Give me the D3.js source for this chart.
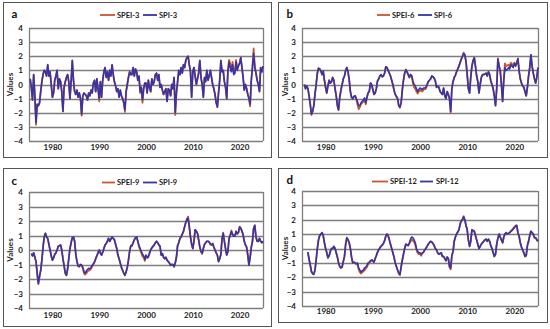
<!DOCTYPE html>
<html><head><meta charset="utf-8">
<script src="https://cdn.jsdelivr.net/npm/d3@7"></script>
<style>html,body{margin:0;padding:0;background:#fff;} svg{display:block;font-family:Lato,"Open Sans",sans-serif;}</style>
</head><body><svg id="chart" width="550" height="329"></svg>
<script>
// quarterly values, one row per year (Jan, Apr, Jul, Oct), starting 1975; last row = Jan 2025
const START_YEAR = 1975, STEP = 0.25;
const yTicks = [-4, -3, -2, -1, 0, 1, 2, 3, 4];
const xTicks = [1980, 1990, 2000, 2010, 2020];

const spi3 = [
 null,0.4,-0.2,-1.1, 0.7,-0.8,-2.7,-1.4, -1.5,-1.3,-0.5,0.2, 0.7,1.0,0.9,0.6, 1.4,0.6,0.9,0.0,
 -0.9,-0.6,0.3,0.6, 1.0,-0.3,0.4,0.2, -0.5,-1.9,-0.2,0.2, 0.5,0.7,0.2,-1.0, 0.2,1.7,0.3,-0.5,
 -0.7,-0.4,-0.9,-0.6, -1.0,-2.1,-0.8,-0.6, -0.7,-0.8,-1.1,-0.6, -0.8,-0.4,-0.6,0.1, 0.3,-0.5,0.4,-0.3,
 -1.0,0.2,-0.9,0.3, 0.9,1.2,0.5,0.9, 0.3,1.0,0.6,1.4, 0.7,0.2,-0.1,-0.5, -0.3,-0.9,-0.4,-0.8,
 -1.0,-1.3,-1.8,-0.5, 0.0,0.5,0.9,0.7, 0.7,1.2,0.6,1.1, 0.9,0.3,0.6,-0.5, -0.2,-1.1,-0.3,0.1,
 0.1,-0.6,0.3,-0.2, -0.5,0.4,0.0,0.2, 0.7,0.8,0.3,0.7, -0.2,0.0,-0.4,-0.7, -0.5,-0.3,-1.2,-0.3,
 -0.4,-0.8,0.0,-0.3, 0.5,-2.0,-0.6,0.2, 1.0,0.7,1.2,0.8, 1.4,1.2,1.7,1.9, 2.0,1.4,0.9,-0.9,
 0.9,1.2,0.6,0.0, 0.4,0.8,1.7,0.5, 0.0,-0.9,0.5,0.2, 1.0,0.3,0.6,1.0, 0.5,0.0,-0.3,-0.7,
 -1.3,-1.6,-0.6,0.3, 1.7,0.9,1.0,0.2, -0.2,-1.0,0.9,1.6, 1.2,0.9,1.4,0.7, 0.8,1.6,1.0,1.3,
 1.5,1.9,1.2,0.5, -0.4,0.0,-0.3,-0.7, -1.0,-1.4,0.3,1.2, 2.2,1.2,0.8,0.3, 0.0,-0.5,1.2,0.9,
 1.3
];
const spei3 = [
 null,0.4,-0.2,-1.1, 0.7,-0.8,-2.85,-1.4, -1.5,-1.3,-0.5,0.2, 0.7,1.0,0.9,0.6, 1.4,0.6,0.9,0.0,
 -0.9,-0.6,0.3,0.6, 1.0,-0.3,0.4,0.2, -0.5,-1.9,-0.2,0.2, 0.5,0.7,0.2,-1.0, 0.2,1.7,0.3,-0.5,
 -0.7,-0.4,-0.9,-0.6, -1.0,-2.2,-0.8,-0.6, -0.7,-0.8,-1.1,-0.6, -0.8,-0.4,-0.6,0.1, 0.3,-0.5,0.4,-0.3,
 -1.2,0.2,-0.9,0.3, 0.9,1.2,0.5,0.9, 0.3,1.0,0.6,1.4, 0.7,0.2,-0.1,-0.5, -0.3,-0.9,-0.4,-0.8,
 -1.0,-1.3,-1.95,-0.5, 0.0,0.5,0.9,0.7, 0.7,1.2,0.6,1.1, 0.9,0.3,0.6,-0.6, -0.2,-1.3,-0.3,0.1,
 0.1,-0.6,0.3,-0.2, -0.5,0.4,0.0,0.2, 0.7,0.8,0.3,0.7, -0.2,0.0,-0.4,-0.7, -0.5,-0.3,-1.2,-0.3,
 -0.4,-0.8,0.0,-0.3, 0.5,-2.15,-0.6,0.2, 1.0,0.7,1.2,0.8, 1.4,1.2,1.7,1.9, 2.0,1.4,0.9,-0.9,
 0.9,1.2,0.6,0.0, 0.4,0.8,1.7,0.5, 0.0,-0.9,0.5,0.2, 1.0,0.3,0.6,1.0, 0.5,0.0,-0.3,-0.7,
 -1.3,-1.6,-0.6,0.3, 1.7,0.9,1.0,0.2, -0.2,-1.0,1.0,1.75, 1.45,1.0,1.6,0.8, 0.9,1.75,1.1,1.35,
 1.5,1.9,1.2,0.5, -0.4,0.0,-0.3,-0.7, -1.0,-1.55,0.3,1.3, 2.55,1.3,0.8,0.3, 0.0,-0.5,1.2,0.9,
 1.3
];
const spi6 = [
 null,null,0.0,-0.3, -0.1,-0.3,-0.8,-1.4, -2.1,-1.9,-1.5,-0.7, 0.0,0.8,1.15,1.1, 0.95,0.7,0.95,0.3,
 -0.2,-0.6,-0.1,0.3, 0.1,0.2,0.5,0.3, -0.3,-0.8,-1.5,-1.8, -0.9,-0.4,0.0,0.4, 0.6,1.0,1.2,0.9,
 0.35,-0.5,-0.9,-1.0, -0.85,-0.8,-1.0,-1.2, -1.5,-1.5,-1.3,-1.2, -1.1,-0.95,-1.3,-0.9, -0.6,-0.5,0.1,0.0,
 -0.35,-0.7,-0.6,-0.3, 0.25,0.4,0.6,0.7, 0.55,0.6,0.8,1.25, 1.2,1.0,0.8,0.6, 0.3,0.0,-0.4,-0.7,
 -0.85,-1.0,-1.5,-1.6, -1.3,-0.4,0.3,0.8, 1.05,0.9,0.7,0.5, 0.7,0.6,0.25,0.0, -0.1,-0.3,-0.5,-0.35,
 -0.25,-0.3,-0.35,-0.25, -0.25,-0.2,0.0,0.2, 0.3,0.4,0.6,0.55, 0.45,0.25,-0.2,-0.1, -0.2,-0.5,-0.6,-0.7,
 -0.25,-0.8,-1.0,-0.5, -0.7,-1.0,-1.9,-0.3, 0.2,0.5,0.65,0.9, 1.1,1.3,1.55,1.8, 2.0,2.2,2.1,1.6,
 0.7,-0.3,-0.6,0.5, 1.3,1.7,1.9,1.3, 0.6,0.2,-0.6,0.0, 0.5,0.7,0.7,0.75, 0.8,0.6,0.9,0.7,
 0.25,0.0,-0.3,-0.8, -1.5,-0.3,1.8,1.3, 0.95,0.0,-1.2,0.3, 1.2,1.0,1.05,1.2, 1.1,1.4,1.3,1.2,
 1.5,1.3,1.5,1.8, 0.95,0.4,0.1,-0.1, -0.2,-0.5,-0.8,-0.2, 0.6,1.2,2.1,1.3, 0.8,0.4,0.1,0.5,
 1.2
];
const spei6 = [
 null,null,0.0,-0.3, -0.1,-0.3,-0.8,-1.4, -2.15,-1.9,-1.5,-0.7, 0.0,0.8,1.15,1.1, 0.95,0.7,0.95,0.3,
 -0.2,-0.6,-0.1,0.3, 0.1,0.2,0.5,0.3, -0.3,-0.8,-1.5,-1.8, -0.9,-0.4,0.0,0.4, 0.6,1.0,1.2,0.9,
 0.35,-0.5,-0.9,-1.0, -0.85,-0.8,-1.05,-1.4, -1.75,-1.6,-1.4,-1.3, -1.2,-1.05,-1.4,-0.95, -0.6,-0.5,0.1,0.0,
 -0.35,-0.7,-0.6,-0.3, 0.25,0.4,0.6,0.7, 0.55,0.6,0.8,1.25, 1.2,1.0,0.8,0.6, 0.3,0.0,-0.4,-0.7,
 -0.85,-1.0,-1.5,-1.65, -1.3,-0.4,0.3,0.8, 1.05,0.9,0.7,0.5, 0.7,0.6,0.1,-0.2, -0.3,-0.5,-0.65,-0.5,
 -0.4,-0.45,-0.5,-0.35, -0.35,-0.3,-0.05,0.2, 0.3,0.4,0.6,0.55, 0.45,0.25,-0.2,-0.1, -0.2,-0.5,-0.6,-0.7,
 -0.25,-0.8,-1.0,-0.5, -0.7,-1.0,-2.0,-0.3, 0.2,0.5,0.65,0.9, 1.1,1.3,1.55,1.8, 2.0,2.25,2.1,1.6,
 0.7,-0.3,-0.6,0.5, 1.3,1.7,1.9,1.3, 0.6,0.2,-0.6,0.0, 0.5,0.7,0.7,0.75, 0.8,0.6,0.9,0.7,
 0.25,0.0,-0.3,-0.8, -1.5,-0.3,1.85,1.35, 1.0,0.0,-1.2,0.4, 1.5,1.3,1.35,1.4, 1.3,1.55,1.45,1.3,
 1.55,1.35,1.55,1.85, 0.95,0.4,0.1,-0.1, -0.2,-0.5,-0.8,-0.2, 0.6,1.2,2.1,1.3, 0.8,0.4,0.1,0.5,
 1.2
];
const spi9 = [
 null,null,-0.25,-0.4, -0.2,-0.5,-0.8,-1.6, -2.3,-1.8,-1.4,-0.7, 0.2,0.9,1.15,0.9, 0.8,0.4,0.0,-0.4,
 -0.7,-0.55,-0.3,-0.2, 0.0,0.25,0.3,0.35, 0.0,-0.6,-1.1,-1.6, -1.75,-1.3,-0.6,0.1, 0.5,0.85,0.9,0.6,
 -0.3,-0.8,-1.1,-1.15, -1.0,-1.05,-1.2,-1.5, -1.6,-1.45,-1.35,-1.27, -1.3,-1.2,-1.05,-0.95, -0.8,-0.6,-0.4,-0.2,
 0.0,-0.2,-0.35,-0.15, 0.1,0.35,0.45,0.6, 0.8,0.6,0.75,0.9, 0.8,0.7,0.4,0.1, -0.35,-0.6,-0.9,-1.2,
 -1.4,-1.6,-1.75,-1.5, -1.2,-0.7,-0.1,0.3, 0.3,0.5,0.7,0.85, 0.9,0.6,0.3,0.1, -0.1,-0.3,-0.4,-0.65,
 -0.35,-0.5,-0.45,-0.2, 0.0,0.15,0.25,0.35, 0.5,0.6,0.5,0.35, 0.25,-0.35,-0.25,-0.5, -0.6,-0.5,-0.7,-0.8,
 -0.9,-1.05,-1.0,-1.0, -1.15,-0.9,-0.5,0.3, 0.5,0.8,0.9,1.1, 1.27,1.6,1.9,2.1, 2.2,1.6,0.9,0.4,
 0.1,0.6,1.4,1.3, 1.15,0.7,0.2,-0.1, -0.25,0.1,0.4,0.5, 0.6,0.6,0.55,0.4, 0.35,0.45,0.2,0.0,
 -0.2,-0.35,-0.8,-0.6, -0.3,0.8,1.15,0.6, 0.1,-0.35,-0.1,0.8, 1.0,1.27,1.05,0.95, 0.95,1.27,1.1,1.2,
 1.6,1.5,1.3,1.05, 0.6,0.35,0.2,-0.35, -1.05,-0.5,0.2,0.6, 1.5,1.7,0.9,0.6, 0.6,0.8,0.6,0.5,
 0.6
];
const spei9 = [
 null,null,-0.25,-0.4, -0.2,-0.5,-0.8,-1.65, -2.35,-1.85,-1.4,-0.7, 0.2,0.9,1.15,0.9, 0.8,0.4,0.0,-0.4,
 -0.7,-0.55,-0.3,-0.2, 0.0,0.25,0.3,0.35, 0.0,-0.6,-1.1,-1.6, -1.75,-1.3,-0.6,0.1, 0.5,0.85,0.9,0.6,
 -0.3,-0.8,-1.1,-1.15, -1.0,-1.05,-1.25,-1.6, -1.7,-1.6,-1.5,-1.4, -1.4,-1.3,-1.15,-1.0, -0.85,-0.6,-0.4,-0.2,
 0.0,-0.2,-0.35,-0.15, 0.1,0.35,0.45,0.6, 0.8,0.6,0.75,0.9, 0.8,0.7,0.4,0.1, -0.35,-0.6,-0.9,-1.2,
 -1.4,-1.6,-1.75,-1.5, -1.2,-0.7,-0.1,0.3, 0.3,0.5,0.7,0.85, 0.9,0.6,0.25,0.0, -0.2,-0.45,-0.5,-0.75,
 -0.45,-0.55,-0.5,-0.25, 0.0,0.15,0.25,0.35, 0.5,0.6,0.5,0.35, 0.25,-0.35,-0.25,-0.5, -0.6,-0.5,-0.7,-0.8,
 -0.9,-1.05,-1.0,-1.0, -1.15,-0.9,-0.5,0.3, 0.5,0.8,0.9,1.1, 1.27,1.6,1.9,2.15, 2.3,1.6,0.9,0.4,
 0.1,0.6,1.4,1.3, 1.15,0.7,0.2,-0.1, -0.25,0.1,0.4,0.5, 0.6,0.6,0.55,0.4, 0.35,0.45,0.2,0.0,
 -0.2,-0.35,-0.8,-0.6, -0.3,0.8,1.2,0.6, 0.1,-0.35,-0.1,0.8, 1.05,1.35,1.1,1.0, 1.0,1.3,1.15,1.2,
 1.6,1.5,1.3,1.05, 0.6,0.35,0.2,-0.35, -1.05,-0.5,0.2,0.6, 1.5,1.7,0.9,0.6, 0.6,0.8,0.6,0.5,
 0.6
];
const spi12 = [
 null,null,null,null, null,-0.25,-0.75,-1.15, -1.6,-1.75,-1.8,-1.5, -0.8,0.0,0.6,0.9, 1.0,1.1,0.9,0.4,
 0.0,-0.3,-0.65,-0.5, -0.2,0.0,0.0,0.15, 0.0,-0.3,-0.6,-1.0, -1.25,-1.35,-1.3,-0.9, -0.55,0.3,0.75,0.6,
 0.4,0.0,-0.6,-1.0, -0.95,-1.0,-1.05,-1.0, -1.35,-1.5,-1.65,-1.55, -1.5,-1.35,-1.3,-1.2, -1.0,-0.95,-0.85,-0.8,
 -0.85,-0.95,-0.7,-0.5, -0.25,-0.1,0.05,0.15, 0.25,0.35,0.55,0.85, 1.0,0.9,0.6,0.3, 0.0,-0.3,-0.6,-1.0,
 -1.25,-1.5,-1.7,-1.8, -1.3,-0.8,-0.4,0.0, 0.3,0.25,0.2,0.4, 0.65,0.8,0.75,0.6, 0.4,0.0,-0.2,-0.3,
 -0.3,-0.4,-0.3,-0.25, -0.1,0.0,0.15,0.3, 0.4,0.5,0.45,0.35, 0.2,0.0,-0.1,-0.3, -0.4,-0.35,-0.3,-0.55,
 -0.55,-0.7,-0.85,-0.6, -0.7,-1.25,-1.35,-0.5, -0.2,0.5,0.8,1.0, 1.15,1.3,1.7,1.9, 2.0,2.2,2.0,1.6,
 1.3,0.6,0.15,0.5, 1.3,1.25,1.2,0.9, 0.6,0.3,0.0,0.15, 0.3,0.4,0.5,0.6, 0.65,0.5,0.65,0.5,
 0.2,0.0,-0.3,-0.55, -0.4,0.3,0.7,1.0, 0.8,0.6,0.4,0.8, 1.0,1.1,1.0,1.05, 1.1,1.2,1.25,1.35,
 1.45,1.55,1.6,1.1, 0.85,0.4,0.1,-0.1, -0.3,-0.55,-0.5,0.2, 0.5,0.9,1.2,1.1, 1.0,0.75,0.75,0.6,
 0.5
];
const spei12 = [
 null,null,null,null, null,-0.25,-0.75,-1.15, -1.6,-1.75,-1.8,-1.5, -0.8,0.0,0.6,0.9, 1.0,1.1,0.9,0.4,
 0.0,-0.3,-0.65,-0.5, -0.2,0.0,0.0,0.15, 0.0,-0.3,-0.6,-1.0, -1.25,-1.35,-1.3,-0.9, -0.55,0.3,0.75,0.6,
 0.4,0.0,-0.6,-1.0, -0.95,-1.0,-1.1,-1.1, -1.45,-1.65,-1.75,-1.65, -1.6,-1.5,-1.4,-1.3, -1.1,-1.0,-0.9,-0.8,
 -0.85,-0.95,-0.7,-0.5, -0.25,-0.1,0.05,0.15, 0.25,0.35,0.55,0.85, 1.0,0.9,0.6,0.3, 0.0,-0.3,-0.6,-1.0,
 -1.25,-1.5,-1.75,-1.85, -1.3,-0.8,-0.4,0.0, 0.3,0.25,0.2,0.35, 0.5,0.6,0.55,0.45, 0.25,-0.1,-0.3,-0.4,
 -0.4,-0.5,-0.35,-0.25, -0.1,0.0,0.15,0.3, 0.4,0.5,0.45,0.35, 0.2,0.0,-0.1,-0.3, -0.4,-0.35,-0.3,-0.55,
 -0.55,-0.7,-0.85,-0.6, -0.7,-1.3,-1.45,-0.5, -0.2,0.5,0.8,1.0, 1.15,1.3,1.7,1.95, 2.05,2.25,2.0,1.6,
 1.3,0.6,0.15,0.5, 1.3,1.25,1.2,0.9, 0.6,0.3,0.0,0.15, 0.3,0.4,0.5,0.6, 0.65,0.5,0.65,0.5,
 0.2,0.0,-0.3,-0.55, -0.4,0.3,0.7,1.0, 0.8,0.6,0.4,0.8, 1.0,1.1,1.0,1.05, 1.1,1.2,1.3,1.4,
 1.5,1.6,1.6,1.1, 0.85,0.4,0.1,-0.1, -0.3,-0.55,-0.5,0.2, 0.5,0.9,1.2,1.1, 1.0,0.75,0.75,0.6,
 0.5
];

const SPI_COLOR = "#3634a6", SPEI_COLOR = "#c9562c";

const panels = [
  {label:"a", spei:spei3, spi:spi3, names:["SPEI-3","SPI-3"], ox:0, box:[3,2,271,157], plot:{l:29,r:263,t:28,b:141}, legY:15, leg:[100,115,117,143,157,159], letY:17.5, xPad:3},
  {label:"b", spei:spei6, spi:spi6, names:["SPEI-6","SPI-6"], ox:275, box:[278,2,547,157], plot:{l:302,r:538,t:28,b:141}, legY:15, leg:[102,115,117,143,157,159], letY:17.5, xPad:3},
  {label:"c", spei:spei9, spi:spi9, names:["SPEI-9","SPI-9"], ox:0, box:[3,168,271,326], plot:{l:29,r:263,t:192,b:308}, legY:182.5, leg:[102,115,117,143,157,159], letY:185, xPad:4},
  {label:"d", spei:spei12, spi:spi12, names:["SPEI-12","SPI-12"], ox:275, box:[278,168,547,322], plot:{l:302,r:538,t:191,b:306}, legY:181.5, leg:[97,113,115,145,158,161], letY:184, xPad:2.5}
];

const svg = d3.select("#chart");
const toPts = arr => arr.map((v, i) => ({t: START_YEAR + i * STEP, v}));
const TXT = "#1a1a1a";

panels.forEach(p => {
  const g = svg.append("g");
  const [bx0, by0, bx1, by1] = p.box;
  g.append("rect").attr("x", bx0 + 0.5).attr("y", by0 + 0.5)
    .attr("width", bx1 - bx0).attr("height", by1 - by0)
    .attr("fill", "#fff").attr("stroke", "#555").attr("stroke-width", 1);

  const x = d3.scaleLinear().domain([1975, 2025]).range([p.plot.l, p.plot.r]);
  const y = d3.scaleLinear().domain([-4, 4]).range([p.plot.b, p.plot.t]);

  // gridlines
  g.append("g").selectAll("line").data(yTicks).join("line")
    .attr("x1", p.plot.l).attr("x2", p.plot.r)
    .attr("y1", d => Math.round(y(d)) + 0.5).attr("y2", d => Math.round(y(d)) + 0.5)
    .attr("stroke", "#7d7d7d").attr("stroke-width", 1.4);
  [p.plot.l, p.plot.r].forEach(xx => {
    g.append("line").attr("x1", xx + 0.5).attr("x2", xx + 0.5)
      .attr("y1", y(4)).attr("y2", y(-4)).attr("stroke", "#7d7d7d").attr("stroke-width", 1.3);
  });

  // axes
  const ya = g.append("g").attr("transform", `translate(${p.plot.l},0)`)
    .call(d3.axisLeft(y).tickValues(yTicks).tickSize(0).tickPadding(6).tickFormat(d3.format("d")));
  ya.select(".domain").remove();
  ya.selectAll("text").attr("font-size", 8).attr("font-weight", "bold").attr("fill", TXT)
    .style("font-family", "Lato, 'Open Sans', sans-serif");

  const xa = g.append("g").attr("transform", `translate(0,${p.plot.b})`)
    .call(d3.axisBottom(x).tickValues(xTicks).tickSize(0).tickPadding(p.xPad).tickFormat(d3.format("d")));
  xa.select(".domain").remove();
  xa.selectAll("text").attr("font-size", 8).attr("font-weight", "bold").attr("fill", TXT)
    .style("font-family", "Lato, 'Open Sans', sans-serif");

  // y title
  g.append("text").attr("transform", `translate(${p.ox + 11},${(p.plot.t + p.plot.b) / 2}) rotate(-90)`)
    .attr("text-anchor", "middle").attr("dominant-baseline", "middle")
    .attr("font-size", 8).attr("font-weight", "bold").attr("fill", TXT).text("Values");

  // panel letter
  g.append("text").attr("x", p.ox + 11.5).attr("y", p.letY)
    .attr("font-size", 11.5).attr("font-weight", "bold").attr("fill", "#111").text(p.label);

  // lines
  const line = d3.line().defined(d => d.v != null).x(d => x(d.t)).y(d => y(d.v));
  g.append("path").datum(toPts(p.spei)).attr("d", line)
    .attr("fill", "none").attr("stroke", SPEI_COLOR).attr("stroke-width", 1.8).attr("stroke-linejoin", "round");
  g.append("path").datum(toPts(p.spi)).attr("d", line)
    .attr("fill", "none").attr("stroke", SPI_COLOR).attr("stroke-width", 1.6).attr("stroke-linejoin", "round");

  // legend
  const [l1a, l1b, t1, l2a, l2b, t2] = p.leg.map(v => v + p.ox);
  const lg = g.append("g");
  lg.append("line").attr("x1", l1a).attr("x2", l1b).attr("y1", p.legY).attr("y2", p.legY)
    .attr("stroke", SPEI_COLOR).attr("stroke-width", 1.8);
  lg.append("text").attr("x", t1).attr("y", p.legY + 2.7).attr("font-size", 7.5).attr("font-weight", "bold")
    .attr("fill", TXT).text(p.names[0]);
  lg.append("line").attr("x1", l2a).attr("x2", l2b).attr("y1", p.legY).attr("y2", p.legY)
    .attr("stroke", SPI_COLOR).attr("stroke-width", 1.8);
  lg.append("text").attr("x", t2).attr("y", p.legY + 2.7).attr("font-size", 7.5).attr("font-weight", "bold")
    .attr("fill", TXT).text(p.names[1]);
});
</script>
</body></html>
